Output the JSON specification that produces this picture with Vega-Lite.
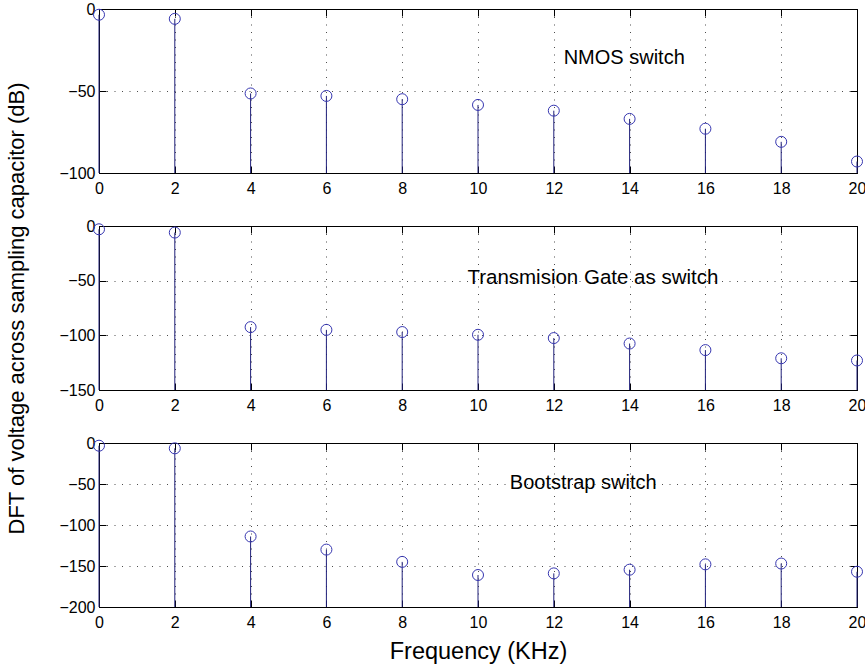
{
  "$schema": "https://vega.github.io/schema/vega-lite/v6.json",
  "padding": {"left": 5, "top": 0, "right": 2, "bottom": 2},
  "background": "#ffffff",
  "spacing": 53,
  "bounds": "flush",
  "datasets": {
    "nmos": [
      {"freq": 0, "dft": -3.5}, {"freq": 2, "dft": -6}, {"freq": 4, "dft": -51.5}, {"freq": 6, "dft": -53},
      {"freq": 8, "dft": -55}, {"freq": 10, "dft": -58.5}, {"freq": 12, "dft": -62}, {"freq": 14, "dft": -67},
      {"freq": 16, "dft": -73}, {"freq": 18, "dft": -81}, {"freq": 20, "dft": -93}
    ],
    "tgate": [
      {"freq": 0, "dft": -3}, {"freq": 2, "dft": -6}, {"freq": 4, "dft": -92.5}, {"freq": 6, "dft": -95},
      {"freq": 8, "dft": -97}, {"freq": 10, "dft": -99.5}, {"freq": 12, "dft": -102.5}, {"freq": 14, "dft": -107.5},
      {"freq": 16, "dft": -113.5}, {"freq": 18, "dft": -121}, {"freq": 20, "dft": -123}
    ],
    "boot": [
      {"freq": 0, "dft": -3.3}, {"freq": 2, "dft": -6.5}, {"freq": 4, "dft": -114}, {"freq": 6, "dft": -130},
      {"freq": 8, "dft": -145}, {"freq": 10, "dft": -161}, {"freq": 12, "dft": -159}, {"freq": 14, "dft": -154.5},
      {"freq": 16, "dft": -148}, {"freq": 18, "dft": -147}, {"freq": 20, "dft": -157}
    ],
    "ann_nmos": [{"label": "NMOS switch", "lx": 12.26, "ly": -33.5}],
    "ann_tgate": [{"label": "Transmision Gate as switch", "lx": 9.72, "ly": -53}],
    "ann_boot": [{"label": "Bootstrap switch", "lx": 10.84, "ly": -56}]
  },
  "vconcat": [
    {
      "width": 758, "height": 164,
      "data": {"name": "nmos"},
      "layer": [
        {
          "mark": {"type": "rule", "color": "#20207a", "strokeWidth": 1},
          "encoding": {
            "x": {"field": "freq", "type": "quantitative", "scale": {"domain": [0, 20], "nice": false},
                  "axis": {"orient": "bottom", "values": [0,2,4,6,8,10,12,14,16,18,20], "title": null, "grid": true, "labelPadding": 14}},
            "y": {"field": "dft", "type": "quantitative", "scale": {"domain": [-100, 0], "nice": false},
                  "axis": {"orient": "left", "values": [-100,-50,0], "title": null, "grid": true}},
            "y2": {"datum": -100}
          }
        },
        {
          "mark": {"type": "point", "shape": "circle", "size": 121, "color": "#3636b0", "strokeWidth": 1, "filled": false, "opacity": 1},
          "encoding": {
            "x": {"field": "freq", "type": "quantitative", "axis": {"orient": "top", "labels": false, "grid": false, "values": [0,2,4,6,8,10,12,14,16,18,20], "title": null}},
            "y": {"field": "dft", "type": "quantitative", "axis": {"orient": "right", "labels": false, "grid": false, "values": [-100,-50,0], "title": null}}
          }
        },
        {
          "data": {"name": "ann_nmos"},
          "mark": {"type": "text", "align": "left", "baseline": "alphabetic", "fontSize": 20, "font": "Liberation Sans", "color": "#000"},
          "encoding": {
            "x": {"field": "lx", "type": "quantitative", "axis": null},
            "y": {"field": "ly", "type": "quantitative", "axis": null},
            "text": {"field": "label"}
          }
        }
      ],
      "resolve": {"axis": {"x": "independent", "y": "independent"}}
    },
    {
      "width": 758, "height": 164,
      "data": {"name": "tgate"},
      "layer": [
        {
          "mark": {"type": "rule", "color": "#20207a", "strokeWidth": 1},
          "encoding": {
            "x": {"field": "freq", "type": "quantitative", "scale": {"domain": [0, 20], "nice": false},
                  "axis": {"orient": "bottom", "values": [0,2,4,6,8,10,12,14,16,18,20], "title": null, "grid": true, "labelPadding": 14}},
            "y": {"field": "dft", "type": "quantitative", "scale": {"domain": [-150, 0], "nice": false},
                  "axis": {"orient": "left", "values": [-150,-100,-50,0], "title": "DFT of voltage across sampling capacitor (dB)", "titlePadding": 30, "grid": true}},
            "y2": {"datum": -150}
          }
        },
        {
          "mark": {"type": "point", "shape": "circle", "size": 121, "color": "#3636b0", "strokeWidth": 1, "filled": false, "opacity": 1},
          "encoding": {
            "x": {"field": "freq", "type": "quantitative", "axis": {"orient": "top", "labels": false, "grid": false, "values": [0,2,4,6,8,10,12,14,16,18,20], "title": null}},
            "y": {"field": "dft", "type": "quantitative", "axis": {"orient": "right", "labels": false, "grid": false, "values": [-150,-100,-50,0], "title": null}}
          }
        },
        {
          "data": {"name": "ann_tgate"},
          "mark": {"type": "text", "align": "left", "baseline": "alphabetic", "fontSize": 20.5, "font": "Liberation Sans", "color": "#000"},
          "encoding": {
            "x": {"field": "lx", "type": "quantitative", "axis": null},
            "y": {"field": "ly", "type": "quantitative", "axis": null},
            "text": {"field": "label"}
          }
        }
      ],
      "resolve": {"axis": {"x": "independent", "y": "independent"}}
    },
    {
      "width": 758, "height": 164,
      "data": {"name": "boot"},
      "layer": [
        {
          "mark": {"type": "rule", "color": "#20207a", "strokeWidth": 1},
          "encoding": {
            "x": {"field": "freq", "type": "quantitative", "scale": {"domain": [0, 20], "nice": false},
                  "axis": {"orient": "bottom", "values": [0,2,4,6,8,10,12,14,16,18,20], "title": "Frequency (KHz)", "titleFontSize": 23.5, "titlePadding": 9, "grid": true, "labelPadding": 14}},
            "y": {"field": "dft", "type": "quantitative", "scale": {"domain": [-200, 0], "nice": false},
                  "axis": {"orient": "left", "values": [-200,-150,-100,-50,0], "title": null, "grid": true}},
            "y2": {"datum": -200}
          }
        },
        {
          "mark": {"type": "point", "shape": "circle", "size": 121, "color": "#3636b0", "strokeWidth": 1, "filled": false, "opacity": 1},
          "encoding": {
            "x": {"field": "freq", "type": "quantitative", "axis": {"orient": "top", "labels": false, "grid": false, "values": [0,2,4,6,8,10,12,14,16,18,20], "title": null}},
            "y": {"field": "dft", "type": "quantitative", "axis": {"orient": "right", "labels": false, "grid": false, "values": [-200,-150,-100,-50,0], "title": null}}
          }
        },
        {
          "data": {"name": "ann_boot"},
          "mark": {"type": "text", "align": "left", "baseline": "alphabetic", "fontSize": 20, "font": "Liberation Sans", "color": "#000"},
          "encoding": {
            "x": {"field": "lx", "type": "quantitative", "axis": null},
            "y": {"field": "ly", "type": "quantitative", "axis": null},
            "text": {"field": "label"}
          }
        }
      ],
      "resolve": {"axis": {"x": "independent", "y": "independent"}}
    }
  ],
  "config": {
    "font": "Liberation Sans",
    "view": {"stroke": "#000", "strokeWidth": 1},
    "axis": {
      "domain": false,
      "tickColor": "#000",
      "tickSize": -7,
      "labelColor": "#000",
      "labelFontSize": 16,
      "labelFont": "Liberation Sans",
      "labelPadding": 11,
      "titleFont": "Liberation Sans",
      "titleFontSize": 22,
      "titleFontWeight": "normal",
      "titleColor": "#000",
      "gridColor": "#000",
      "gridDash": [1, 6.5],
      "gridOpacity": 0.7,
      "labelFlush": false,
      "labelOverlap": false
    }
  }
}
